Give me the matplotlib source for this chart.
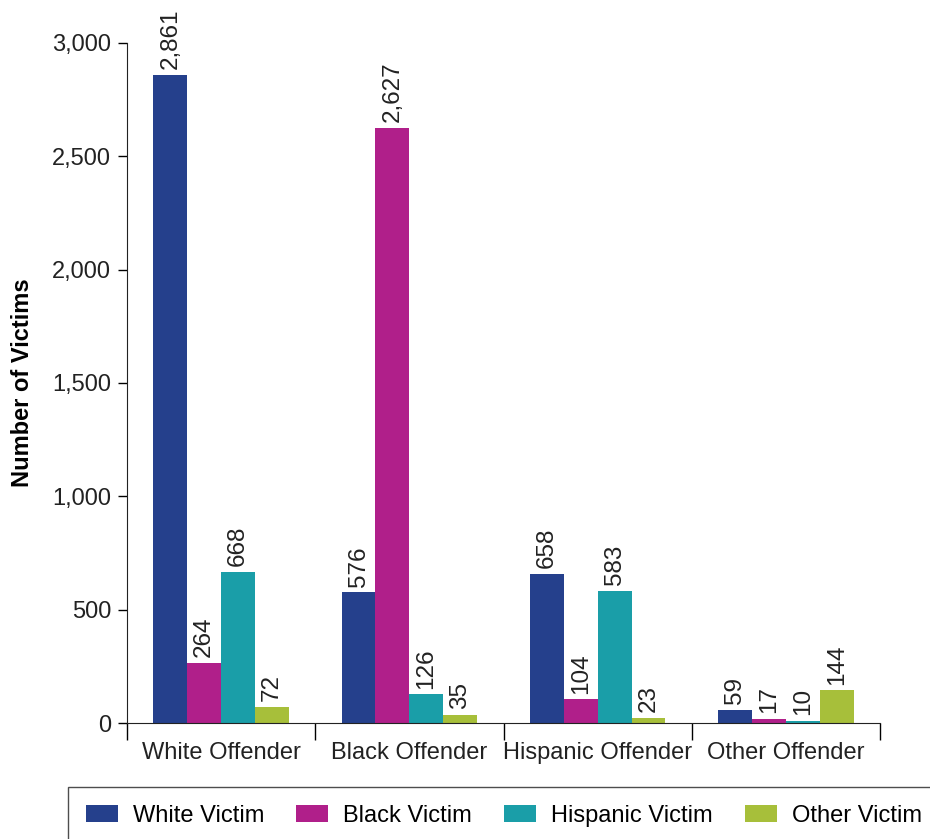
import matplotlib
matplotlib.use("Agg")
import matplotlib.pyplot as plt
import numpy as np

plt.rcParams["font.family"] = ["Liberation Sans", "DejaVu Sans"]

OFFENDERS = ["White Offender", "Black Offender", "Hispanic Offender", "Other Offender"]
VICTIMS = ["White Victim", "Black Victim", "Hispanic Victim", "Other Victim"]
WHITE_VICTIM = [2861, 576, 658, 59]
BLACK_VICTIM = [264, 2627, 104, 17]
HISPANIC_VICTIM = [668, 126, 583, 10]
OTHER_VICTIM = [72, 35, 23, 144]
COLORS = ["#25408C", "#B01F8A", "#1A9EA8", "#A7BF3A"]

series = [WHITE_VICTIM, BLACK_VICTIM, HISPANIC_VICTIM, OTHER_VICTIM]
FS = 17
TXT = "#222222"

fig = plt.figure(figsize=(9.3, 8.39), dpi=100)
ax = fig.add_axes([127 / 930, 1 - 723 / 839, (880 - 127) / 930, (723 - 43) / 839])

x = np.arange(len(OFFENDERS))
w = 0.18
for i, (vals, name, col) in enumerate(zip(series, VICTIMS, COLORS)):
    pos = x + (i - 1.5) * w
    ax.bar(pos, vals, width=w, color=col, label=name)
    for p, v in zip(pos, vals):
        ax.text(p, v + 25, f"{v:,}", rotation=90, ha="center", va="bottom",
                fontsize=17.5, color=TXT, clip_on=False)

ax.set_xlim(-0.5, len(OFFENDERS) - 0.5)
ax.set_ylim(0, 3000)
ax.set_yticks(range(0, 3001, 500))
ax.set_yticklabels([f"{t:,}" for t in range(0, 3001, 500)], fontsize=FS, color=TXT)
ax.set_xticks(x)
ax.set_xticklabels(OFFENDERS, fontsize=FS, color=TXT)
ax.set_xticks(np.arange(-0.5, len(OFFENDERS)), minor=True)
ax.tick_params(axis="x", which="major", length=0, pad=14)
ax.tick_params(axis="x", which="minor", length=12.5, width=1, direction="out")
ax.tick_params(axis="y", length=6.5, width=1, pad=5)
for s in ("top", "right"):
    ax.spines[s].set_visible(False)
ax.spines["left"].set_color(TXT)
ax.spines["bottom"].set_color(TXT)
ax.set_ylabel("Number of Victims", fontsize=FS, fontweight="bold")
ax.yaxis.set_label_coords(-0.124, 0.5)

leg = fig.legend(loc="upper left", bbox_to_anchor=(68 / 930, 1 - 787 / 839),
                 ncol=4, fontsize=FS, frameon=True, fancybox=False,
                 edgecolor=TXT, handlelength=1.35, handleheight=0.75,
                 columnspacing=1.35, borderpad=0.75, handletextpad=0.65,
                 borderaxespad=0)
leg.get_frame().set_linewidth(1)

fig.savefig("out.png", dpi=100)
